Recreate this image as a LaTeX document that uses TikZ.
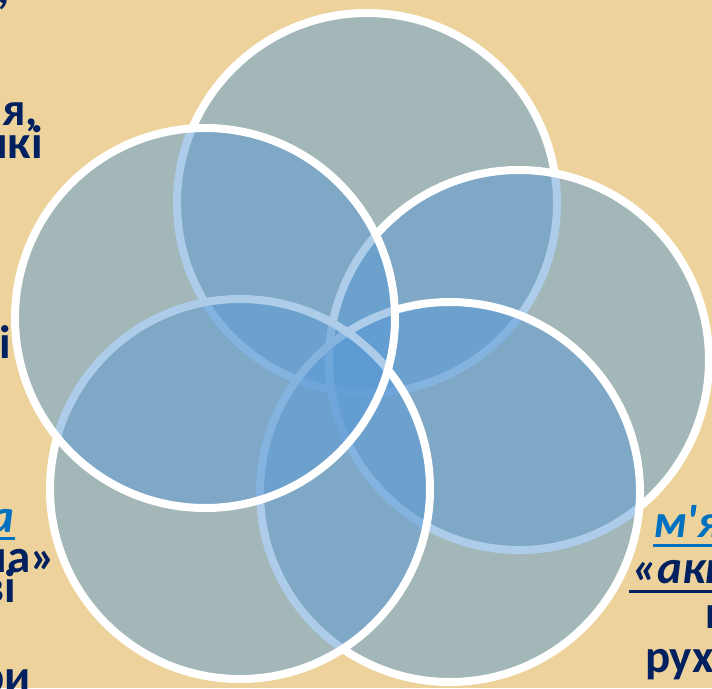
\documentclass[tikz,border=0pt]{standalone}
\usepackage{fontspec}
\setmainfont{Carlito}
\usetikzlibrary{positioning}
\definecolor{parchment}{RGB}{237,211,155}
\definecolor{petalblue}{RGB}{91,155,213}
\definecolor{navytext}{RGB}{0,32,96}
\definecolor{linkblue}{RGB}{0,112,192}

\begin{document}
\begin{tikzpicture}[x=1pt, y=-1pt,
        petal/.style={circle, draw=white, line width=8pt, fill=petalblue, fill opacity=0.5, draw opacity=1, minimum size=380pt, inner sep=0pt},
        lbl/.style={font=\fontsize{47}{50}\selectfont\bfseries, text=navytext, inner sep=0pt},
        lblit/.style={lbl, font=\fontsize{47}{50}\selectfont\bfseries\itshape, text=linkblue},
        uline/.style={line width=3pt, linkblue},
    ]

    % ===== Background =====
    \useasboundingbox (0,0) rectangle (712,688);
    \clip (0,0) rectangle (712,688);
    \fill[parchment] (0,0) rectangle (712,688);

    % ===== Circles (lowest first) =====
    \node[petal] (CTOP) at (367,203) {};
    \node[petal] (CRIGHT) at (519,360) {};
    \node[petal] (CBR) at (450,492) {};
    \node[petal] (CBL) at (240,489) {};
    \node[petal] (CLEFT) at (205,318) {};

    % ===== Left text (cut by the frame) =====
    \node[lbl, anchor=base east] (L0) at (10,4) {,};
    \node[lbl, anchor=base east] (L1) at (38,125) {ня,};
    \node[lbl, anchor=base east] (L2) at (43,158) {нкі};
    \node[lbl, anchor=base east] (L3) at (11,358) {гі};
    \node[lblit, anchor=base east] (L4) at (15,532) {а};
    \draw[uline] ([yshift=-6.5pt]L4.base west) -- ([yshift=-6.5pt]L4.base east);
    \node[lbl, anchor=base east] (L5) at (56,572) {на»};
    \node[lbl, anchor=base east] (L6) at (16,602) {ві};
    \node[lbl, anchor=base east] (L7) at (31,692) {ри};

    % ===== Right text (cut by the frame) =====
    \node[lblit, anchor=base west] (R1) at (653,537) {м\textquotesingle я};
    \draw[uline] ([yshift=-8pt]R1.base west) -- ([yshift=-8pt]R1.base east);
    \node[lbl, font=\fontsize{47}{50}\selectfont\bfseries\itshape, anchor=base west] (R2) at (632,583) {«акт};
    \draw[uline, navytext] ([yshift=-8pt,xshift=-3pt]R2.base west) -- ([yshift=-8pt]R2.base east);
    \node[lbl, anchor=base west] (R3) at (705,628) {ц};
    \node[lbl, anchor=base west] (R4) at (645,672) {рух};

\end{tikzpicture}
\end{document}
